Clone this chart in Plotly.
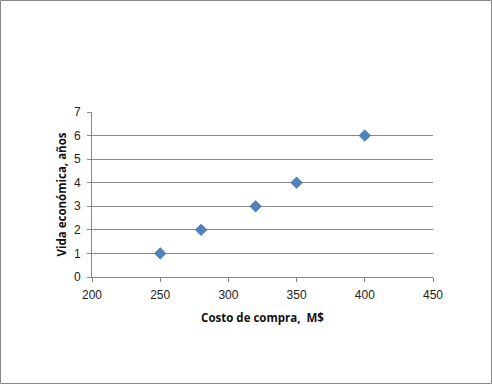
import plotly.graph_objects as go

costo = [250, 280, 320, 350, 400]
vida = [1, 2, 3, 4, 6]
x_ticks = [200, 250, 300, 350, 400, 450]
y_ticks = [0, 1, 2, 3, 4, 5, 6, 7]

W, H = 492, 384
L, R, T, B = 92, 59, 112, 107
pw, ph = W - L - R, H - T - B

fig = go.Figure(go.Scatter(
    x=costo, y=vida, mode="markers",
    marker=dict(symbol="diamond", size=9, color="#4F81BD",
                line=dict(width=0.5, color="#3d6a9f")),
))

fig.update_layout(
    width=W, height=H,
    margin=dict(l=L, r=R, t=T, b=B, pad=0),
    paper_bgcolor="white", plot_bgcolor="white",
    showlegend=False,
    font=dict(family="Liberation Sans, Arial", size=12, color="#222"),
    xaxis=dict(range=[200, 450], tickvals=x_ticks, showgrid=False, zeroline=False,
               showline=True, linecolor="#888", linewidth=1,
               ticks="outside", ticklen=4, tickcolor="#888", ticklabelstandoff=3,
               title=dict(text="<b>Costo de compra,  M$</b>", standoff=12,
                          font=dict(family="Open Sans, Lato", size=11.5, color="#111"))),
    yaxis=dict(range=[0, 7], tickvals=y_ticks, showgrid=True, gridcolor="#888",
               gridwidth=1, zeroline=False,
               showline=True, linecolor="#888", linewidth=1,
               ticks="outside", ticklen=4, tickcolor="#888", ticklabelstandoff=4,
               title=dict(text="<b>Vida económica, años</b>", standoff=4,
                          font=dict(family="Open Sans, Lato", size=11.5, color="#111"))),
    shapes=[dict(type="rect", xref="paper", yref="paper",
                 x0=(0.5 - L) / pw, x1=(W - 0.5 - L) / pw,
                 y0=-(H - 0.5 - (H - B)) / ph, y1=((H - B) - 0.5) / ph,
                 line=dict(color="#888", width=1), layer="below")],
)

fig.write_html("out.html")
